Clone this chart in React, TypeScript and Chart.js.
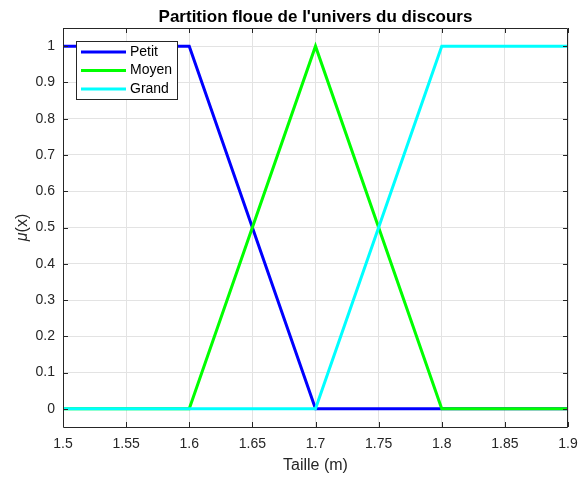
import React, { useEffect, useRef } from "react";
import { Chart, registerables } from "chart.js";

Chart.register(...registerables);

// Universe of discourse breakpoints (height in metres)
const xPoints = [1.5, 1.6, 1.7, 1.8, 1.9];
// Membership degrees for each fuzzy set
const petitValues = [1, 1, 0, 0, 0];
const moyenValues = [0, 0, 1, 0, 0];
const grandValues = [0, 0, 0, 1, 1];

const xTicks = [1.5, 1.55, 1.6, 1.65, 1.7, 1.75, 1.8, 1.85, 1.9];
const yTicks = [0, 0.1, 0.2, 0.3, 0.4, 0.5, 0.6, 0.7, 0.8, 0.9, 1];

const seriesLabels = ["Petit", "Moyen", "Grand"];
const seriesColors = ["#0000ff", "#00ff00", "#00ffff"];

const titleText = "Partition floue de l'univers du discours";
const xTitle = "Taille (m)";

const FONT = "'Liberation Sans', Arial, Helvetica, sans-serif";
const INK = "#262626";

const toPoints = (ys: number[]) => xPoints.map((x, i) => ({ x, y: ys[i] }));

const decorPlugin = {
  id: "matlabDecor",
  afterDraw(chart: any) {
    const { ctx, chartArea } = chart;
    const { left, right, top, bottom } = chartArea;
    const xs = chart.scales.x;
    const ys = chart.scales.y;
    ctx.save();

    // Box around the axes
    ctx.strokeStyle = INK;
    ctx.lineWidth = 1;
    ctx.beginPath();
    ctx.rect(Math.round(left) + 0.5, Math.round(top) + 0.5, Math.round(right - left) - 1, Math.round(bottom - top));
    ctx.stroke();

    // Inward tick marks on all four sides
    const tl = 5;
    ctx.beginPath();
    xTicks.forEach((v) => {
      const px = Math.round(xs.getPixelForValue(v)) + 0.5;
      ctx.moveTo(px, bottom);
      ctx.lineTo(px, bottom - tl);
      ctx.moveTo(px, top);
      ctx.lineTo(px, top + tl);
    });
    yTicks.forEach((v) => {
      const py = Math.round(ys.getPixelForValue(v)) + 0.5;
      ctx.moveTo(left, py);
      ctx.lineTo(left + tl, py);
      ctx.moveTo(right, py);
      ctx.lineTo(right - tl, py);
    });
    ctx.stroke();

    // Title
    ctx.fillStyle = "#000";
    ctx.font = `bold 17px ${FONT}`;
    ctx.textAlign = "center";
    ctx.textBaseline = "alphabetic";
    ctx.fillText(titleText, (left + right) / 2, 21.5);

    // X axis title
    ctx.fillStyle = INK;
    ctx.font = `16px ${FONT}`;
    ctx.textBaseline = "middle";
    ctx.fillText(xTitle, (left + right) / 2, 466);

    // Y axis title: italic mu followed by (x)
    ctx.save();
    ctx.translate(23, (top + bottom) / 2);
    ctx.rotate(-Math.PI / 2);
    ctx.font = `italic 16px ${FONT}`;
    const muW = ctx.measureText("\u03bc").width;
    ctx.font = `16px ${FONT}`;
    const restW = ctx.measureText("(x)").width;
    const start = -(muW + restW) / 2;
    ctx.textAlign = "left";
    ctx.font = `italic 16px ${FONT}`;
    ctx.fillText("\u03bc", start, 0);
    ctx.font = `16px ${FONT}`;
    ctx.fillText("(x)", start + muW, 0);
    ctx.restore();

    // Legend
    const lx = left + 13;
    const ly = top + 13;
    const lw = 101;
    const lh = 58;
    ctx.fillStyle = "#fff";
    ctx.fillRect(lx, ly, lw, lh);
    ctx.strokeStyle = INK;
    ctx.lineWidth = 1;
    ctx.strokeRect(lx + 0.5, ly + 0.5, lw, lh);
    ctx.font = `14px ${FONT}`;
    ctx.textAlign = "left";
    ctx.textBaseline = "middle";
    seriesLabels.forEach((label, i) => {
      const ry = ly + 11 + i * 18.5;
      ctx.strokeStyle = seriesColors[i];
      ctx.lineWidth = 3;
      ctx.beginPath();
      ctx.moveTo(lx + 5, ry);
      ctx.lineTo(lx + 50, ry);
      ctx.stroke();
      ctx.fillStyle = "#000";
      ctx.fillText(label, lx + 54, ry);
    });

    ctx.restore();
  },
};

export default function App() {
  const canvasRef = useRef<HTMLCanvasElement | null>(null);

  useEffect(() => {
    document.body.style.margin = "0";
    const canvas = canvasRef.current;
    if (!canvas) return;
    const seriesData = [petitValues, moyenValues, grandValues];
    const chart = new Chart(canvas, {
      type: "line",
      data: {
        datasets: seriesLabels.map((label, i) => ({
          label,
          data: toPoints(seriesData[i]),
          borderColor: seriesColors[i],
          backgroundColor: seriesColors[i],
          borderWidth: 3,
          pointRadius: 0,
          tension: 0,
          fill: false,
          // later series are painted above earlier ones
          order: seriesLabels.length - i,
        })),
      },
      options: {
        responsive: false,
        animation: false,
        events: [],
        layout: { padding: { top: 28, right: 11, left: 0, bottom: 0 } },
        plugins: {
          legend: { display: false },
          tooltip: { enabled: false },
          title: { display: false },
        },
        scales: {
          x: {
            type: "linear",
            min: 1.5,
            max: 1.9,
            afterBuildTicks: (scale: any) => {
              scale.ticks = xTicks.map((value) => ({ value }));
            },
            afterFit: (scale: any) => {
              scale.height = 50;
              scale.paddingLeft = 0;
              scale.paddingRight = 0;
            },
            border: { display: false },
            grid: { color: "#e3e3e3", drawTicks: false, lineWidth: 1 },
            ticks: {
              autoSkip: false,
              maxRotation: 0,
              padding: 9,
              color: INK,
              font: { family: FONT, size: 14 },
              callback: (v: any) => String(Number(Number(v).toFixed(2))),
            },
          },
          y: {
            type: "linear",
            min: -0.05,
            max: 1.05,
            afterBuildTicks: (scale: any) => {
              scale.ticks = yTicks.map((value) => ({ value }));
            },
            afterFit: (scale: any) => {
              scale.width = 63;
              scale.paddingTop = 0;
              scale.paddingBottom = 0;
            },
            border: { display: false },
            grid: { color: "#e3e3e3", drawTicks: false, lineWidth: 1 },
            ticks: {
              padding: 8,
              color: INK,
              font: { family: FONT, size: 14 },
              callback: (v: any) => String(Number(Number(v).toFixed(2))),
            },
          },
        },
      },
      plugins: [decorPlugin],
    } as any);
    return () => chart.destroy();
  }, []);

  return <canvas ref={canvasRef} width={579} height={477} style={{ display: "block" }} />;
}
